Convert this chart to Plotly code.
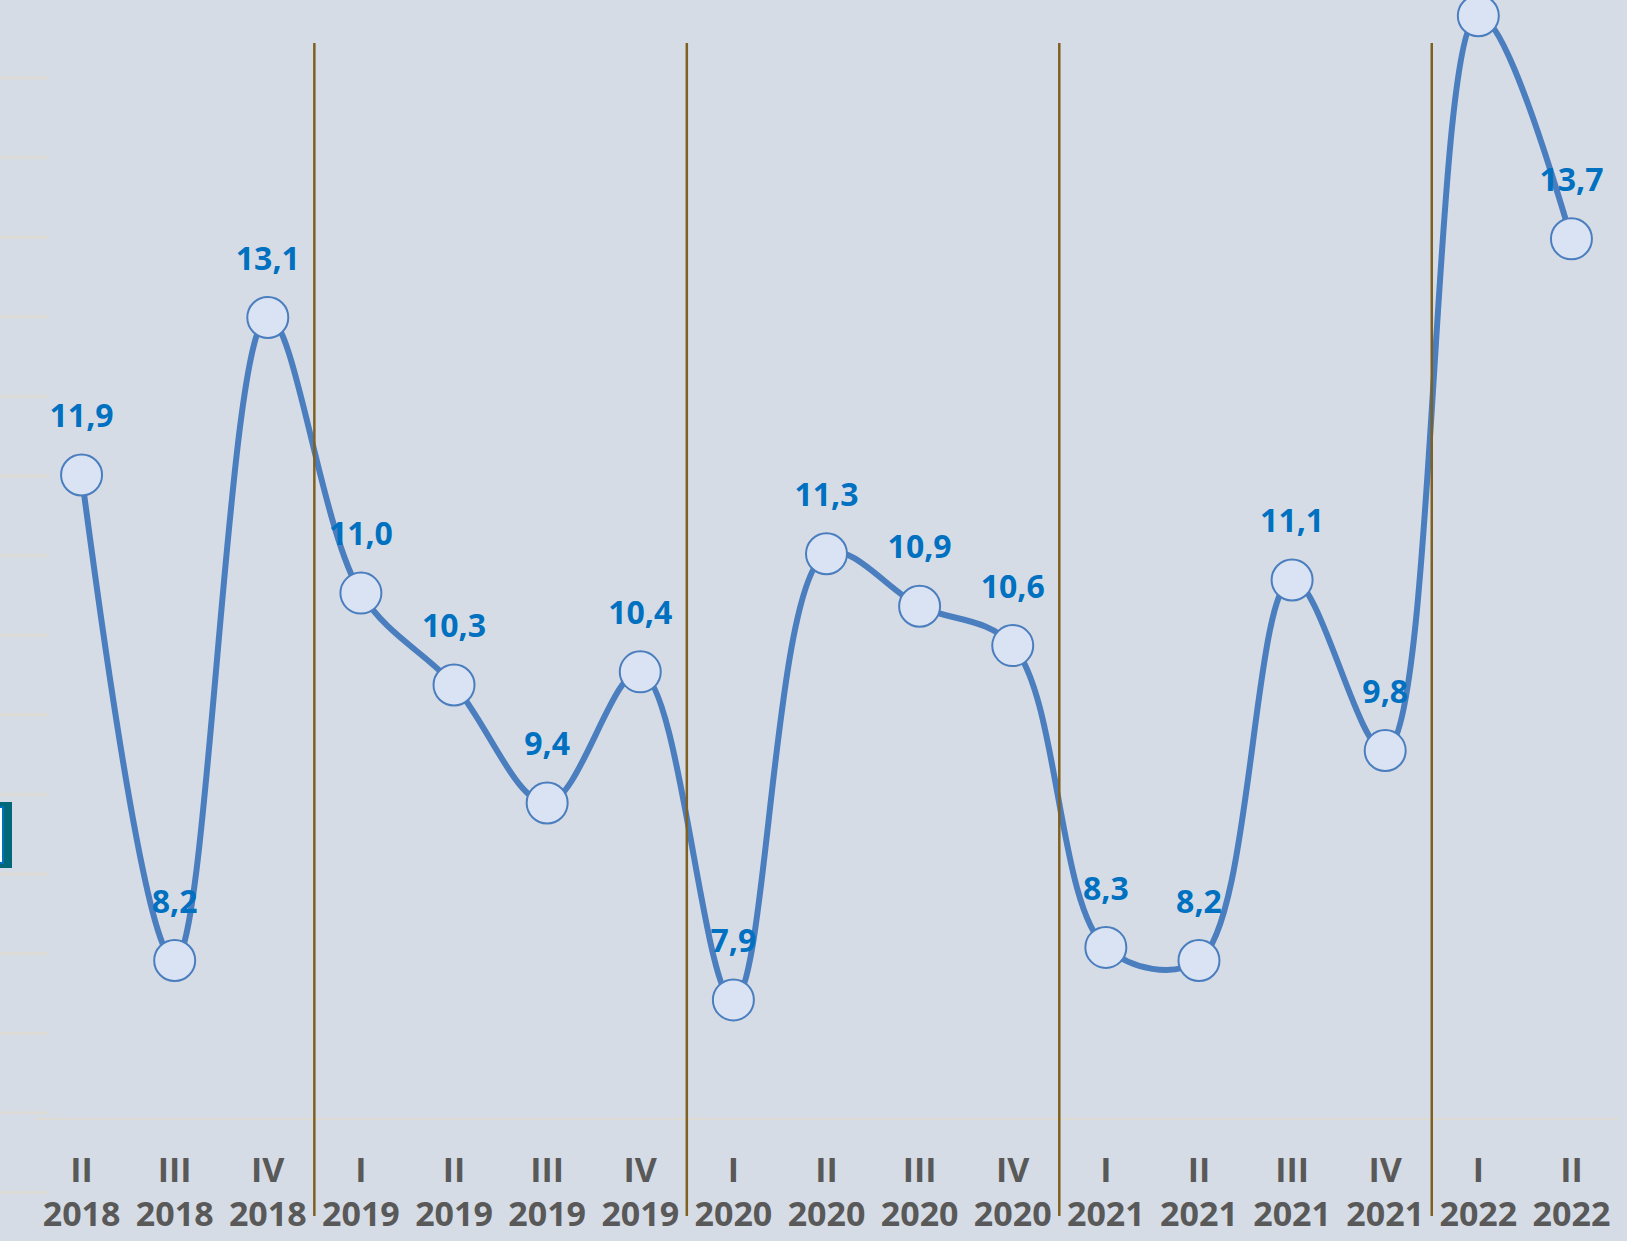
import plotly.graph_objects as go

quarters = ["II", "III", "IV", "I", "II", "III", "IV", "I", "II", "III", "IV",
            "I", "II", "III", "IV", "I", "II"]
years = ["2018", "2018", "2018", "2019", "2019", "2019", "2019", "2020", "2020",
         "2020", "2020", "2021", "2021", "2021", "2021", "2022", "2022"]
values = [11.9, 8.2, 13.1, 11.0, 10.3, 9.4, 10.4, 7.9, 11.3, 10.9, 10.6,
          8.3, 8.2, 11.1, 9.8, 15.4, 13.7]
# the label of the point at the very top is outside the visible picture
shown_label = [True] * 17
shown_label[15] = False
year_breaks = [2.5, 6.5, 10.5, 14.5]

W, H = 1627, 1241
ML, MR, MT, MB = 35, 9, 0, 123
PW, PH = W - ML - MR, H - MT - MB

categories = [f"{q}<br>{y}" for q, y in zip(quarters, years)]
labels = [f"{v:.1f}".replace(".", ",") if s else ""
          for v, s in zip(values, shown_label)]

BG = "#D6DCE5"
LINE = "#4A7EBF"
LABEL = "#0070C0"

fig = go.Figure()
fig.add_trace(go.Scatter(
    x=categories, y=values,
    mode="lines+markers",
    line=dict(color=LINE, width=6, shape="spline", smoothing=1.0),
    marker=dict(size=41, color="#DAE3F3", line=dict(color=LINE, width=2)),
    cliponaxis=False,
    hoverinfo="skip",
))
# data labels (placed above an invisible, larger marker for the offset)
fig.add_trace(go.Scatter(
    x=categories, y=values,
    mode="markers+text",
    marker=dict(size=62, opacity=0),
    text=labels, textposition="top center",
    textfont=dict(family="Open Sans", size=32, color=LABEL, weight="bold"),
    cliponaxis=False,
    hoverinfo="skip",
))

shapes = []
for xb in year_breaks:
    shapes.append(dict(type="line", xref="x", yref="paper",
                       x0=xb, x1=xb, y0=1 - 43 / PH, y1=1 - 1216 / PH,
                       line=dict(color="#7F6020", width=2.5), layer="above"))

# faint short gridline stubs at the left edge (from underlying chart)
for k in range(15):
    py = 78 + 79.6 * k
    shapes.append(dict(type="line", xref="paper", yref="paper",
                       x0=-ML / PW, x1=(49 - ML) / PW,
                       y0=1 - py / PH, y1=1 - py / PH,
                       line=dict(color="#DDDBD3", width=2.5), layer="below"))

# fragment of a box at the left edge
shapes.append(dict(type="rect", xref="paper", yref="paper",
                   x0=-ML / PW, x1=(12 - ML) / PW,
                   y0=1 - 868 / PH, y1=1 - 802 / PH,
                   fillcolor="#006878", line=dict(width=0)))
shapes.append(dict(type="rect", xref="paper", yref="paper",
                   x0=-ML / PW, x1=(4 - ML) / PW,
                   y0=1 - 864 / PH, y1=1 - 806 / PH,
                   fillcolor="#0070C0", line=dict(width=0)))
shapes.append(dict(type="rect", xref="paper", yref="paper",
                   x0=-ML / PW, x1=(2 - ML) / PW,
                   y0=1 - 862 / PH, y1=1 - 808 / PH,
                   fillcolor="#FFFFFF", line=dict(width=0)))

fig.update_layout(
    width=W, height=H,
    margin=dict(l=ML, r=MR, t=MT, b=MB),
    paper_bgcolor=BG, plot_bgcolor=BG,
    showlegend=False,
    shapes=shapes,
    xaxis=dict(
        type="category",
        range=[-0.5, len(categories) - 0.5],
        showgrid=False, zeroline=False,
        showline=True, linecolor="#DDDBD3", linewidth=2,
        ticks="", ticklabelstandoff=21,
        tickfont=dict(family="Open Sans", size=34, color="#595959", weight="bold"),
    ),
    yaxis=dict(
        range=[7.0, 15.52],
        showgrid=False, zeroline=False, showline=False,
        showticklabels=False, ticks="",
    ),
)

fig.write_html("out.html", config={"displayModeBar": False},
               post_script="document.body.style.margin='0';"
                           "document.body.style.overflow='hidden';")
